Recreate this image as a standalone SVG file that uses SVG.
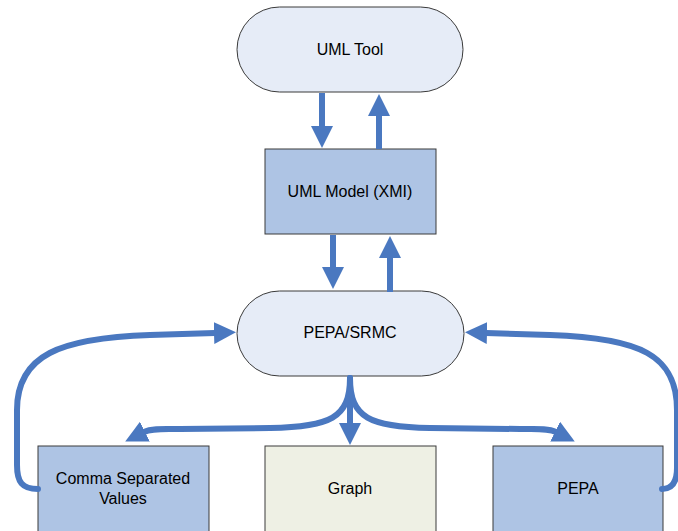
<svg xmlns="http://www.w3.org/2000/svg" width="678" height="531" viewBox="0 0 678 531">
<style>
.term{fill:#E6ECF7;stroke:#3a3a3a;stroke-width:1}
.box{fill:#AEC4E4;stroke:#3a3a3a;stroke-width:1}
.gbox{fill:#EEF0E4;stroke:#3a3a3a;stroke-width:1}
.lbl{font-family:"Liberation Sans",Arial,sans-serif;font-size:16px;fill:#000;text-anchor:middle}
.con{fill:none;stroke:#4A78C0;stroke-width:6;stroke-linecap:round}
.st{stroke-linecap:butt}
</style>
<defs>
<marker id="ah" viewBox="0 0 22 22" markerWidth="22" markerHeight="22" refX="1" refY="11" orient="auto" markerUnits="userSpaceOnUse">
<path d="M0,0 L22,11 L0,22 z" fill="#4A78C0"/>
</marker>
</defs>
<rect width="678" height="531" fill="#fff"/>
<g id="uml-tool"><rect class="term" x="237" y="7" width="226" height="85" rx="42.5"/><text class="lbl" x="350" y="55">UML Tool</text></g>
<g id="uml-model"><rect class="box" x="265" y="149" width="171" height="85"/><text class="lbl" x="350" y="197">UML Model (XMI)</text></g>
<g id="pepa-srmc"><rect class="term" x="237" y="291" width="227" height="85" rx="42.5"/><text class="lbl" x="350" y="338">PEPA/SRMC</text></g>
<g id="csv"><rect class="box" x="38" y="446" width="171" height="90"/><text class="lbl" x="123" y="484">Comma Separated</text><text class="lbl" x="123" y="504">Values</text></g>
<g id="graph"><rect class="gbox" x="265" y="446" width="171" height="90"/><text class="lbl" x="350" y="494">Graph</text></g>
<g id="pepa"><rect class="box" x="493" y="446" width="170" height="90"/><text class="lbl" x="578" y="494">PEPA</text></g>
<g id="connectors">
<path class="con st" d="M322,93 L322,127" marker-end="url(#ah)"/>
<path class="con st" d="M379,149 L379,115" marker-end="url(#ah)"/>
<path class="con st" d="M333,235 L333,268" marker-end="url(#ah)"/>
<path class="con st" d="M390,292 L390,257" marker-end="url(#ah)"/>
<path class="con st" d="M350,377 L350,424" marker-end="url(#ah)"/>
<path class="con" d="M350,378 C350,418 330,427 270,428 L180,429 C165,429 152,428 144,432" marker-end="url(#ah)"/>
<path class="con" d="M350,378 C350,418 370,427 430,428 L520,429 C535,429 548,428 556,432" marker-end="url(#ah)"/>
<path class="con" d="M38,489 C22,489 17,482 17,465 L17,410 C17,355 60,338 150,335 L215,333" marker-end="url(#ah)"/>
<path class="con" d="M662,489 C672,489 677,482 677,468 L677,410 C677,355 640,338 550,335 L486,333" marker-end="url(#ah)"/>
</g>
</svg>
